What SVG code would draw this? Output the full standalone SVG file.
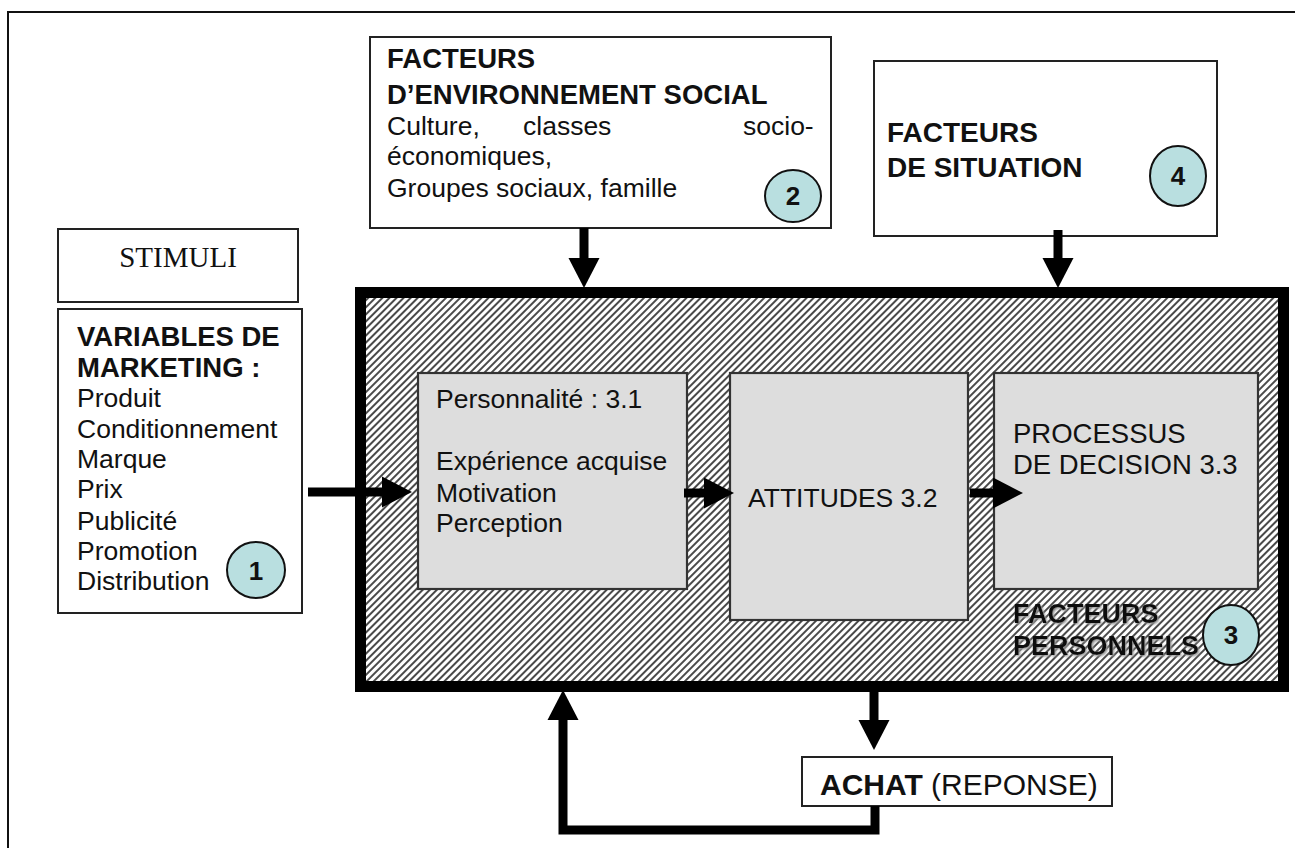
<svg xmlns="http://www.w3.org/2000/svg" width="1295" height="848" viewBox="0 0 1295 848">
<style>
.box{fill:#fff;stroke:#222;stroke-width:2}
.inner{fill:#dddddd;stroke:#333;stroke-width:2.2}
.t{font-family:"Liberation Sans",Arial,sans-serif;font-size:26.5px;fill:#111}
.b{font-family:"Liberation Sans",Arial,sans-serif;font-size:27.5px;font-weight:bold;fill:#111}
.num{font-family:"Liberation Sans",Arial,sans-serif;font-size:26px;font-weight:bold;fill:#111;text-anchor:middle}
.circ{fill:#b9dfe0;stroke:#111;stroke-width:2}
.conn{fill:none;stroke:#000;stroke-width:9;stroke-linejoin:miter}
</style>
<defs>
<pattern id="hatch" patternUnits="userSpaceOnUse" width="5" height="5" patternTransform="rotate(45)">
<rect width="5" height="5" fill="#fff"/>
<rect width="2" height="5" fill="#4a4a4a"/>
</pattern>
<marker id="ah" markerUnits="userSpaceOnUse" markerWidth="31" markerHeight="31" refX="0" refY="15.5" orient="auto" overflow="visible">
<path d="M0,0 L30,15.5 L0,31 Z" fill="#000"/>
</marker>
<filter id="sh" x="-10%" y="-20%" width="130%" height="150%">
<feDropShadow dx="1.5" dy="1.5" stdDeviation="0.8" flood-color="#999"/>
</filter>
</defs>
<rect x="0" y="0" width="1295" height="848" fill="#fff"/>
<rect x="8" y="12" width="1300" height="850" fill="none" stroke="#111" stroke-width="2"/>

<g id="facteurs-personnels">
<rect x="360.5" y="292.5" width="923" height="394" fill="url(#hatch)" stroke="#000" stroke-width="11"/>
</g>

<g id="personnalite">
<rect class="inner" x="418" y="373" width="269" height="216"/>
<text class="t" x="436" y="408">Personnalité : 3.1</text>
<text class="t" x="436" y="470">Expérience acquise</text>
<text class="t" x="436" y="502">Motivation</text>
<text class="t" x="436" y="532">Perception</text>
</g>

<g id="attitudes">
<rect class="inner" x="730" y="373" width="238" height="247"/>
<text class="t" x="748" y="507">ATTITUDES 3.2</text>
</g>

<g id="processus">
<rect class="inner" x="994" y="373" width="264" height="216"/>
<text class="t" x="1013" y="443" style="font-size:27.5px">PROCESSUS</text>
<text class="t" x="1013" y="474" style="font-size:27.5px">DE DECISION 3.3</text>
</g>

<g id="social">
<rect class="box" x="370" y="37" width="461" height="191"/>
<text class="b" x="387" y="68">FACTEURS</text>
<text class="b" x="387" y="104">D’ENVIRONNEMENT SOCIAL</text>
<text class="t" y="135"><tspan x="387">Culture,</tspan><tspan x="523">classes</tspan><tspan x="743">socio-</tspan></text>
<text class="t" x="387" y="165">économiques,</text>
<text class="t" x="387" y="197">Groupes sociaux, famille</text>
<ellipse class="circ" cx="793" cy="196" rx="28" ry="26"/>
<text class="num" x="793" y="205">2</text>
</g>

<g id="situation">
<rect class="box" x="874" y="61" width="343" height="175"/>
<text class="b" x="887" y="142" style="font-size:28px">FACTEURS</text>
<text class="b" x="887" y="177" style="font-size:28px">DE SITUATION</text>
<ellipse class="circ" cx="1178" cy="176" rx="28" ry="30"/>
<text class="num" x="1178" y="185">4</text>
</g>

<g id="stimuli">
<rect class="box" x="58" y="229" width="240" height="73"/>
<text x="178" y="267" text-anchor="middle" style="font-family:'Liberation Serif','Times New Roman',serif;font-size:29px;fill:#111">STIMULI</text>
</g>

<g id="variables">
<rect class="box" x="58" y="309" width="244" height="304"/>
<text class="b" x="77" y="346">VARIABLES DE</text>
<text class="b" x="77" y="377">MARKETING :</text>
<text class="t" x="77" y="407">Produit</text>
<text class="t" x="77" y="438">Conditionnement</text>
<text class="t" x="77" y="468">Marque</text>
<text class="t" x="77" y="498">Prix</text>
<text class="t" x="77" y="530">Publicité</text>
<text class="t" x="77" y="560">Promotion</text>
<text class="t" x="77" y="590">Distribution</text>
<ellipse class="circ" cx="256" cy="570" rx="29" ry="28"/>
<text class="num" x="256" y="580">1</text>
</g>

<g id="achat">
<rect class="box" x="802" y="757" width="310" height="49"/>
<text x="820" y="795" style="font-family:'Liberation Sans',Arial,sans-serif;font-size:30px;fill:#111"><tspan font-weight="bold">ACHAT</tspan> (REPONSE)</text>
</g>

<g id="connectors">
<path class="conn" d="M584,228 L584,258" marker-end="url(#ah)"/>
<path class="conn" d="M1058,230 L1058,258" marker-end="url(#ah)"/>
<path class="conn" d="M308,492 L382,492" marker-end="url(#ah)"/>
<path class="conn" d="M684,493 L704,493" marker-end="url(#ah)"/>
<path class="conn" d="M970,493 L993,493" marker-end="url(#ah)"/>
<path class="conn" d="M874,692 L874,720" marker-end="url(#ah)"/>
<path class="conn" d="M875,806 L875,830 L563,830 L563,720" marker-end="url(#ah)"/>
</g>

<g id="facteurs-personnels-label">
<text class="b" x="1013" y="623" style="font-size:27px" filter="url(#sh)">FACTEURS</text>
<text class="b" x="1013" y="655" style="font-size:27px" filter="url(#sh)">PERSONNELS</text>
<ellipse class="circ" cx="1231" cy="635" rx="28" ry="30"/>
<text class="num" x="1231" y="644">3</text>
</g>
</svg>
